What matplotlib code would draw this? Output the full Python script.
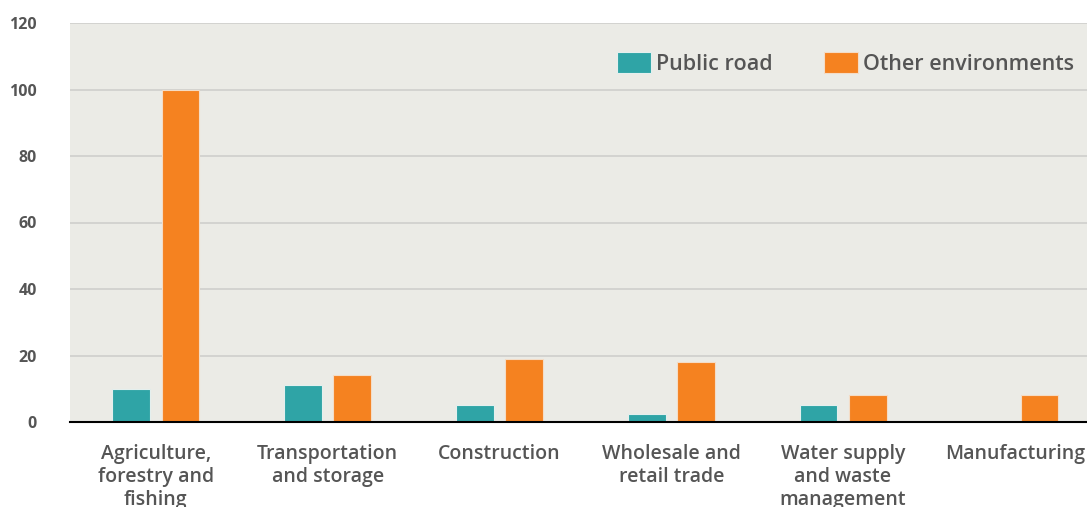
import numpy as np
import matplotlib
matplotlib.use("Agg")
import matplotlib.pyplot as plt

categories = ["Agriculture,\nforestry and\nfishing", "Transportation\nand storage", "Construction",
              "Wholesale and\nretail trade", "Water supply\nand waste\nmanagement", "Manufacturing"]
public_road = [10, 11, 5, 2.5, 5, 0]
other_envs = [100, 14, 19, 18, 8, 8]
y_ticks = [0, 20, 40, 60, 80, 100, 120]

teal = "#2fa4a6"
orange = "#f58220"
text_grey = "#555555"

plt.rcParams["font.family"] = ["Open Sans", "DejaVu Sans"]

fig = plt.figure(figsize=(10.87, 5.07), dpi=100)
ax = fig.add_axes([70 / 1087, 85 / 507, 1017 / 1087, 399 / 507])
ax.set_facecolor("#ebebe6")

x = np.arange(len(categories))
w = 0.22
off = 0.143
ax.bar(x - off, public_road, w, color=teal, edgecolor="#e4efee", linewidth=0.8,
       label="Public road", zorder=3)
ax.bar(x + off, other_envs, w, color=orange, edgecolor="#f4dcc6", linewidth=0.8,
       label="Other environments", zorder=3)

ax.set_xlim(-0.5, 5.42)
ax.set_ylim(0, 120)
ax.set_yticks(y_ticks)
ax.set_yticklabels([str(t) for t in y_ticks], fontsize=11.5, fontweight="bold", color=text_grey)
ax.set_xticks(x)
ax.set_xticklabels(categories, fontsize=14, fontweight="semibold", color=text_grey,
                   linespacing=1.2)
ax.tick_params(axis="both", length=0)
ax.tick_params(axis="y", pad=24)
ax.tick_params(axis="x", pad=16)
for lbl in ax.get_yticklabels():
    lbl.set_horizontalalignment("right")

ax.grid(axis="y", color="#cfcfcc", linewidth=1.2, zorder=0)
ax.set_axisbelow(True)
for s in ["top", "right", "left"]:
    ax.spines[s].set_visible(False)
ax.spines["bottom"].set_color("black")
ax.spines["bottom"].set_linewidth(1.5)
ax.spines["bottom"].set_zorder(4)

leg = ax.legend(ncol=2, loc="upper right", bbox_to_anchor=(1.006, 0.975), frameon=False,
                fontsize=15.5, handlelength=1.6, handleheight=1.1, handletextpad=0.2,
                columnspacing=2.4)
for t in leg.get_texts():
    t.set_color(text_grey)
    t.set_fontweight("semibold")

fig.savefig("out.png", dpi=100)
